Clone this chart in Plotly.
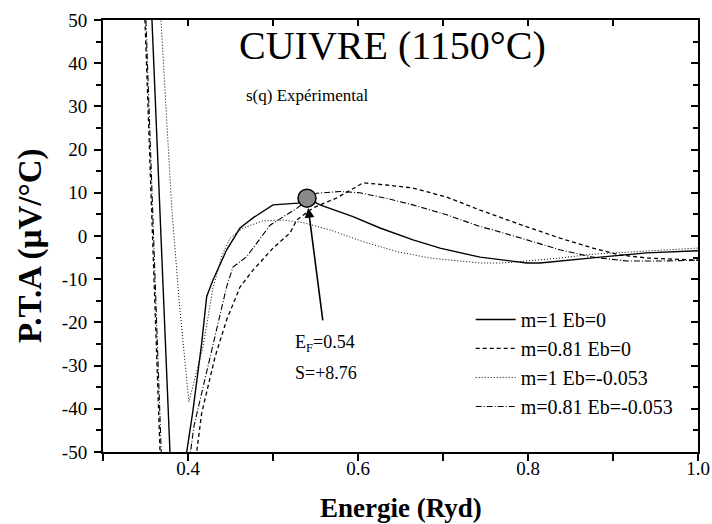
import plotly.graph_objects as go

# ---- data ----
solid_x = [0.3565, 0.3576, 0.3788, 0.3800, 0.3890, 0.3975, 0.3985, 0.4059, 0.4161, 0.4220, 0.4294, 0.4455,
           0.4612, 0.4765, 0.5000, 0.5200, 0.5294, 0.5400, 0.5553, 0.5941, 0.6259, 0.6647,
           0.6965, 0.7435, 0.7985, 0.8140, 0.8455, 0.8850, 0.9396, 1.0000]
solid_y = [55.0, 50.0, -50.0, -55.0, -62.0, -53.0, -50.0, -40.3, -24.8, -14.0, -10.2, -3.2,
           1.85, 4.2, 7.2, 7.4, 7.6, 8.76, 7.2, 4.5, 1.85, -0.9,
           -2.8, -4.9, -6.25, -6.25, -5.6, -4.9, -3.9, -3.4]

dash_x = [0.3485, 0.3494, 0.3671, 0.3680, 0.3880, 0.4095, 0.4102, 0.4161, 0.4318, 0.4455, 0.4612, 0.4765,
          0.5000, 0.5200, 0.5279, 0.5471, 0.5749, 0.6059, 0.6338, 0.6647, 0.7044,
          0.7435, 0.7988, 0.8376, 0.8765, 0.9082, 0.9400, 0.9941, 1.0000]
dash_y = [55.0, 50.0, -50.0, -55.0, -62.0, -52.0, -50.0, -41.0, -28.0, -19.4, -11.8, -7.9,
          -2.8, 0.7, 3.7, 6.5, 8.8, 12.3, 11.8, 11.1, 9.0,
          6.0, 2.1, -0.5, -2.8, -4.4, -5.1, -5.6, -5.6]

dot_x = [0.3675, 0.3682, 0.3808, 0.3900, 0.4010, 0.4176, 0.4294, 0.4400, 0.4494, 0.4647, 0.4882,
         0.5118, 0.5353, 0.5671, 0.6059, 0.6455, 0.6847, 0.7435, 0.7706, 0.7988,
         0.8376, 0.8765, 0.9165, 0.9553, 1.0000]
dot_y = [54.0, 50.0, 6.8, -16.0, -38.4, -25.7, -12.0, -4.5, -0.5, 1.85, 3.5,
         3.7, 3.1, 1.4, -1.3, -3.6, -5.1, -6.25, -6.25, -5.8,
         -5.1, -4.2, -3.7, -3.2, -2.8]

dashdot_x = [0.3495, 0.3505, 0.3685, 0.3700, 0.3900, 0.4030, 0.4070, 0.4200, 0.4337, 0.4455, 0.4529,
             0.4690, 0.4965, 0.5279, 0.5514, 0.5788, 0.6024, 0.6338, 0.6647, 0.7044,
             0.7435, 0.7588, 0.7988, 0.8376, 0.8765, 0.9165, 0.9553, 1.0000]
dashdot_y = [55.0, 50.0, -50.0, -55.0, -60.0, -50.0, -44.0, -33.0, -21.8, -11.7, -7.2,
             -4.8, 2.5, 6.4, 9.9, 10.3, 10.0, 8.7, 7.2, 4.9,
             2.2, 1.4, -0.9, -3.2, -4.9, -5.8, -5.8, -5.6]

series_names = ["m=1 Eb=0", "m=0.81 Eb=0", "m=1 Eb=-0.053", "m=0.81 Eb=-0.053"]

EF = 0.54
S_EF = 8.76

x_ticks = [0.4, 0.6, 0.8, 1.0]
y_ticks = [-50, -40, -30, -20, -10, 0, 10, 20, 30, 40, 50]

FONT = "Liberation Serif, Times New Roman, serif"

fig = go.Figure()
styles = [
    dict(dash="solid", width=1.4),
    dict(dash="4px,3px", width=1.3),
    dict(dash="1px,2px", width=1.0),
    dict(dash="6px,2px,1px,2px", width=1.1),
]
data = [(solid_x, solid_y), (dash_x, dash_y), (dot_x, dot_y), (dashdot_x, dashdot_y)]
for i, ((xs, ys), name, st) in enumerate(zip(data, series_names, styles)):
    fig.add_trace(go.Scatter(
        x=xs, y=ys, mode="lines", name=name, legendgroup=f"g{i}",
        line=dict(color="black", width=st["width"], dash=st["dash"]),
    ))

fig.add_trace(go.Scatter(
    x=[EF], y=[S_EF], mode="markers", showlegend=False,
    marker=dict(size=18, color="#8a8a8a", line=dict(color="black", width=1.5)),
))

axis_common = dict(showgrid=False, zeroline=False, showline=True, linecolor="black",
                   linewidth=2, tickcolor="black", tickwidth=1.5)

fig.update_layout(
    width=712, height=524,
    margin=dict(l=103, r=14, t=20, b=72, autoexpand=False),
    paper_bgcolor="white", plot_bgcolor="white",
    font=dict(family=FONT, color="black"),
    xaxis=dict(range=[0.3, 1.0], tickvals=x_ticks, ticktext=[f"{v:.1f}" for v in x_ticks],
               ticks="outside", ticklen=7, tickfont=dict(size=19), ticklabelstandoff=-9,
               automargin=False,
               minor=dict(tickvals=[0.3, 0.5, 0.7, 0.9], ticks="outside", ticklen=7,
                          tickcolor="black", tickwidth=1.5),
               **axis_common),
    yaxis=dict(range=[-50, 50], tickvals=y_ticks, ticktext=[str(v) for v in y_ticks],
               ticks="outside", ticklen=7,
               tickfont=dict(size=19), ticklabelstandoff=3, automargin=False,
               minor=dict(dtick=5, tick0=-50, ticks="outside", ticklen=5,
                          tickcolor="black", tickwidth=1.5),
               **axis_common),
    xaxis2=dict(range=[0.3, 1.0], overlaying="x", side="top", anchor="y",
                tickvals=x_ticks, ticks="inside", ticklen=6, showticklabels=False,
                automargin=False,
                minor=dict(tickvals=[0.3, 0.5, 0.7, 0.9], ticks="inside", ticklen=6,
                           tickcolor="black", tickwidth=1.5),
                **axis_common),
    yaxis2=dict(range=[-50, 50], overlaying="y", side="right", anchor="x",
                tickvals=y_ticks, ticks="inside", ticklen=7, showticklabels=False,
                automargin=False,
                minor=dict(dtick=5, tick0=-50, ticks="inside", ticklen=5,
                           tickcolor="black", tickwidth=1.5),
                **axis_common),
    legend=dict(x=0.618, y=0.352, xanchor="left", yanchor="top",
                bgcolor="rgba(0,0,0,0)", font=dict(size=20, family=FONT),
                tracegroupgap=0, itemwidth=40),
    showlegend=True,
)

# invisible trace so the mirrored axes are drawn
fig.add_trace(go.Scatter(x=[0.3, 1.0], y=[-50, 50], xaxis="x2", yaxis="y2",
                         mode="markers", marker=dict(opacity=0), showlegend=False,
                         hoverinfo="skip"))

annotations = [
    dict(x=0.487, y=0.94, xref="paper", yref="paper", text="CUIVRE (1150°C)",
         showarrow=False, font=dict(size=40, family=FONT), xanchor="center", yanchor="middle"),
    dict(x=0.237, y=0.825, xref="paper", yref="paper", text="s(q) Expérimental",
         showarrow=False, font=dict(size=17, family=FONT), xanchor="left", yanchor="middle"),
    dict(x=EF, y=S_EF, xref="x", yref="y", ax=0.5588, ay=-19.9, axref="x", ayref="y",
         text="", showarrow=True, arrowhead=2, arrowsize=1.2, arrowwidth=1.6,
         arrowcolor="black", standoff=10),
    dict(x=0.5235, y=-24.8, xref="x", yref="y", text="E<sub>F</sub>=0.54",
         showarrow=False, font=dict(size=18, family=FONT), xanchor="left", yanchor="middle"),
    dict(x=0.5235, y=-31.7, xref="x", yref="y", text="S=+8.76",
         showarrow=False, font=dict(size=18, family=FONT), xanchor="left", yanchor="middle"),
    dict(x=0.5, y=-0.13, xref="paper", yref="paper", text="<b>Energie (Ryd)</b>",
         showarrow=False, font=dict(size=27, family=FONT), xanchor="center", yanchor="middle"),
    dict(x=-0.121, y=0.477, xref="paper", yref="paper", text="<b>P.T.A (µV/°C)</b>",
         showarrow=False, textangle=-90, font=dict(size=33, family=FONT),
         xanchor="center", yanchor="middle"),
]
fig.update_layout(annotations=annotations)

# remove the default 8px page margin so the 712x524 figure fills the window exactly
fig.write_html("out.html", config={"displayModeBar": False},
               post_script="document.body.style.margin='0px';")
